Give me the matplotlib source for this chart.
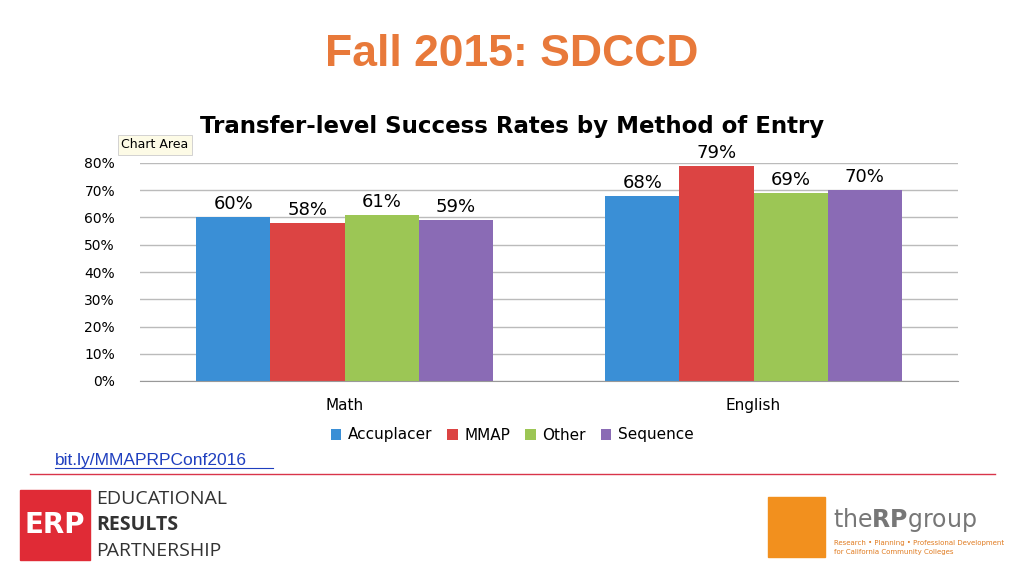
import matplotlib.pyplot as plt
from matplotlib.patches import Rectangle
import numpy as np

groups = ['Math', 'English']
methods = ['Accuplacer', 'MMAP', 'Other', 'Sequence']
values = {
    'Accuplacer': [60, 68],
    'MMAP': [58, 79],
    'Other': [61, 69],
    'Sequence': [59, 70],
}
colors = ['#3a8fd6', '#dc4443', '#9cc655', '#8a6bb5']
yticks = [0, 10, 20, 30, 40, 50, 60, 70, 80]

fig = plt.figure(figsize=(10.24, 5.76), dpi=100)
W, H = 1024, 576

def fx(x):
    return x / W

def fy(y):
    return 1 - y / H

fig.text(0.5, fy(55), 'Fall 2015: SDCCD', ha='center', va='center',
         fontsize=32, fontweight='bold', color='#e8793a', family='Liberation Sans')
fig.text(fx(512), fy(127), 'Transfer-level Success Rates by Method of Entry',
         ha='center', va='center', fontsize=16.5, fontweight='bold', family='DejaVu Sans')
fig.text(fx(155), fy(145), 'Chart Area', ha='center', va='center', fontsize=9,
         bbox=dict(boxstyle='square,pad=0.3', fc='#fdfbe6', ec='#cccccc', lw=0.6))

ax = fig.add_axes([fx(140), fy(381), fx(958) - fx(140), fy(163) - fy(381)])
x = np.array([0.5, 1.5])
bw = 0.181
for i, m in enumerate(methods):
    pos = x + (i - 1.5) * bw
    ax.bar(pos, values[m], width=bw, color=colors[i], label=m)
    for p, v in zip(pos, values[m]):
        ax.text(p, v + 1.5, f'{v}%', ha='center', va='bottom', fontsize=13)
ax.set_xlim(0, 2)
ax.set_ylim(0, 80)
ax.set_yticks(yticks)
ax.set_yticklabels([f'{t}%' for t in yticks], fontsize=10)
ax.set_xticks(x)
ax.set_xticklabels(groups, fontsize=11)
ax.tick_params(axis='x', length=0, pad=12)
ax.tick_params(axis='y', length=0, pad=18)
ax.yaxis.grid(True, color='#bbbbbb', lw=1)
ax.set_axisbelow(True)
for s in ['top', 'right', 'left']:
    ax.spines[s].set_visible(False)
ax.spines['bottom'].set_color('#999999')
ax.legend(loc='center', bbox_to_anchor=(0.5, fy(435), 0, 0), bbox_transform=fig.transFigure,
          ncol=4, frameon=False, fontsize=11, handlelength=0.7, handleheight=0.7,
          columnspacing=1.0, handletextpad=0.4)

fig.text(fx(55), fy(460), 'bit.ly/MMAPRPConf2016', ha='left', va='center',
         fontsize=12.5, color='#1f3fbf', family='Liberation Sans')
fig.add_artist(plt.Line2D([fx(55), fx(273)], [fy(468), fy(468)], color='#1f3fbf', lw=0.8))
fig.add_artist(plt.Line2D([fx(30), fx(995)], [fy(474), fy(474)], color='#d9344a', lw=1))

# ERP logo
fig.add_artist(Rectangle((fx(20), fy(560)), fx(70), fy(490) - fy(560), color='#e02b36',
                         transform=fig.transFigure))
fig.text(fx(55), fy(525), 'ERP', ha='center', va='center', fontsize=20,
         fontweight='bold', color='white')
for t, yy, w in [('EDUCATIONAL', 499, 'normal'), ('RESULTS', 525, 'bold'),
                 ('PARTNERSHIP', 551, 'normal')]:
    fig.text(fx(96), fy(yy), t, ha='left', va='center', fontsize=14, color='#333333',
             fontweight=w, family='Open Sans')

# RP group logo
fig.add_artist(Rectangle((fx(768), fy(557)), fx(57), fy(497) - fy(557), color='#f2901e',
                         transform=fig.transFigure))
fig.text(fx(833), fy(520), r'the$\mathbf{RP}$group', ha='left', va='center',
         fontsize=17, color='#777777')
fig.text(fx(834), fy(543), 'Research • Planning • Professional Development', ha='left',
         va='center', fontsize=5, color='#e07b20')
fig.text(fx(834), fy(552), 'for California Community Colleges', ha='left', va='center',
         fontsize=5, color='#e07b20')

fig.savefig('out.png', dpi=100)
